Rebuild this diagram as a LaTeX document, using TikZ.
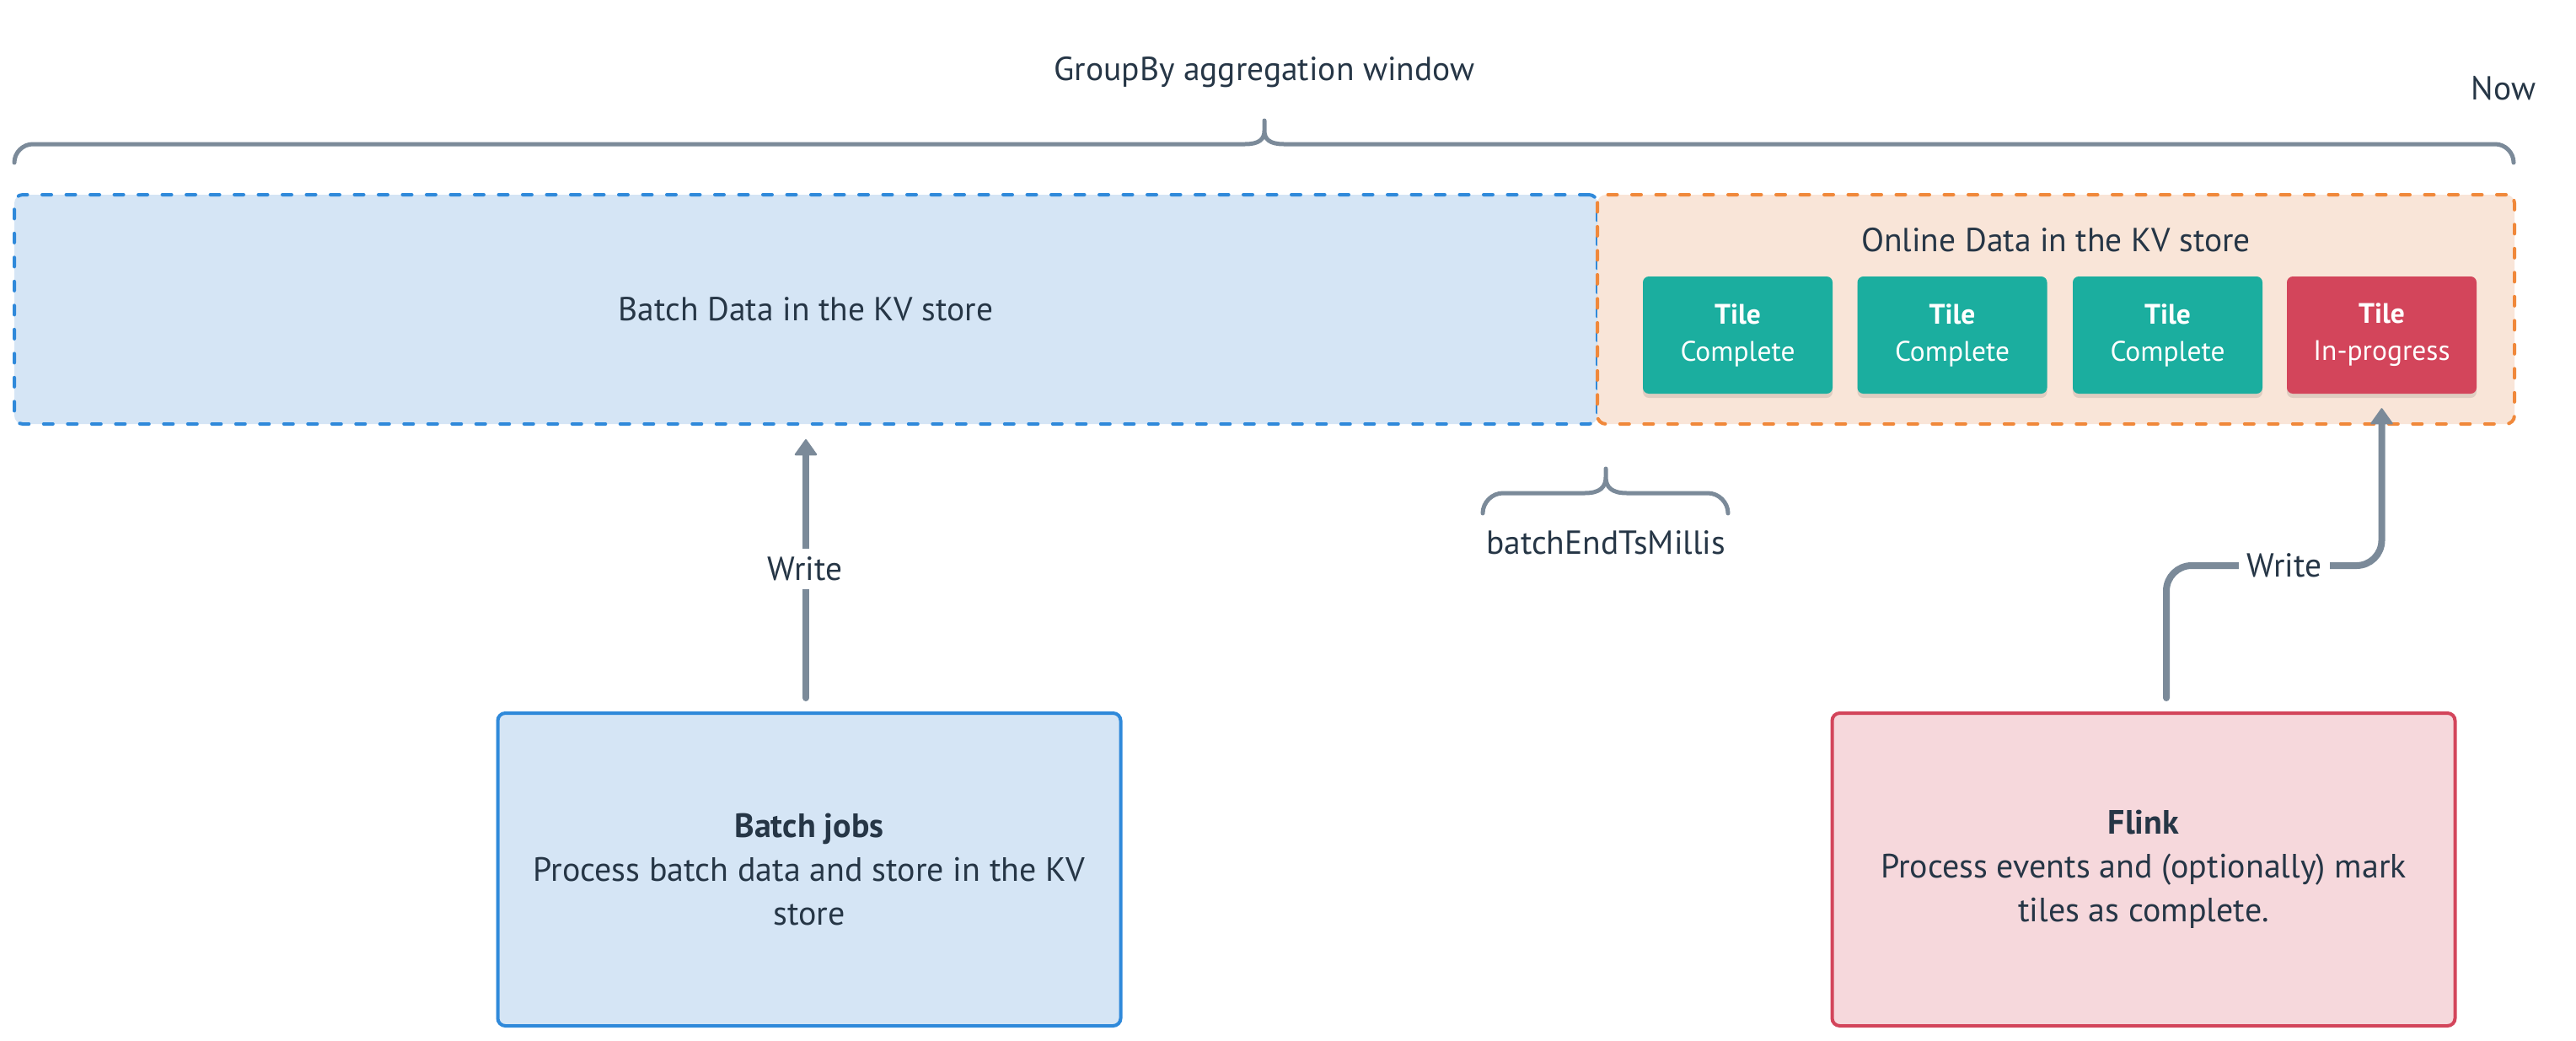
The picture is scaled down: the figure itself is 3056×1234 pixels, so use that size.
\documentclass[tikz,border=0pt]{standalone}
\usepackage{fontspec}
\setmainfont{PT Sans}
\usetikzlibrary{arrows.meta,shadows,calc}
\definecolor{txt}{HTML}{263646}
\definecolor{conn}{HTML}{7B8A99}
\definecolor{bluebd}{HTML}{2F89DA}
\definecolor{bluefill}{HTML}{D5E5F5}
\definecolor{orbd}{HTML}{F0883A}
\definecolor{orfill}{HTML}{F9E5D8}
\definecolor{tealt}{HTML}{1BAE9F}
\definecolor{redt}{HTML}{D3455B}
\definecolor{pinkfill}{HTML}{F6D8DC}
\begin{document}
\begin{tikzpicture}[x=1pt,y=-1pt,
  lbl/.style={text=txt,font=\fontsize{39.5}{52}\selectfont,align=center,inner sep=0pt},
  region/.style={line width=4pt,rounded corners=10pt,dash pattern=on 11pt off 17.5pt,line cap=round,
     text=txt,font=\fontsize{39.5}{52}\selectfont,inner sep=0pt,minimum height=272pt},
  tilebox/.style={rounded corners=7pt,minimum width=225pt,minimum height=139pt,inner sep=0pt,
     text=white,align=center,font=\fontsize{33.5}{44}\selectfont,
     drop shadow={shadow xshift=0pt,shadow yshift=-5pt,opacity=0.10,fill=black}},
  jobbox/.style={line width=4pt,rounded corners=9pt,minimum width=739pt,minimum height=371pt,
     inner sep=0pt,text=txt,align=center,font=\fontsize{40}{52}\selectfont},
  warrow/.style={draw=conn,line width=8pt,line cap=round,rounded corners=30pt,
     -{Triangle[width=28pt,length=20pt,line width=2pt,round]}},
  brace/.style={draw=conn,line width=5pt,line cap=round,line join=round},
  wlabel/.style={lbl,fill=white,inner sep=10pt}
]
\useasboundingbox (0,0) rectangle (3056,1234);

% regions
\node[region,draw=bluebd,fill=bluefill,minimum width=1878pt] (batchdata) at (956,367) {Batch Data in the KV store};
\node[region,draw=orbd,fill=orfill,minimum width=1088pt] (online) at (2439,367) {};
\node[lbl,anchor=base] (onlinelbl) at (2439,298) {Online Data in the KV store};

% tiles
\node[tilebox,fill=tealt] (tile1) at (2061.5,397.5) {\textbf{Tile}\\Complete};
\node[tilebox,fill=tealt] (tile2) at (2316,397.5) {\textbf{Tile}\\Complete};
\node[tilebox,fill=tealt] (tile3) at (2571.5,397.5) {\textbf{Tile}\\Complete};
\node[tilebox,fill=redt] (tile4) at (2825.5,397.5) {\textbf{Tile}\\In-progress};

% top brace
\coordinate (bl) at (17,193);
\coordinate (bt) at (1500,143);
\coordinate (br) at (2982,193);
\draw[brace] (bl) .. controls (17,181) and (27,171) .. (39,171) -- (1477,171)
   .. controls (1494,171) and (1500,165) .. (1500,155) -- (bt) -- (1500,155)
   .. controls (1500,165) and (1506,171) .. (1523,171) -- (2960,171)
   .. controls (2972,171) and (2982,181) .. (br);
\node[lbl,anchor=base] (gb) at (1500,95) {GroupBy aggregation window};
\node[lbl,anchor=base] (now) at (2970,118) {Now};

% small brace
\coordinate (sl) at (1759,609);
\coordinate (st) at (1905,556);
\coordinate (sr) at (2050,609);
\draw[brace] (sl) .. controls (1759,596) and (1770,585) .. (1783,585) -- (1880,585)
   .. controls (1898,585) and (1905,578) .. (1905,566) -- (st) -- (1905,566)
   .. controls (1905,578) and (1912,585) .. (1930,585) -- (2026,585)
   .. controls (2039,585) and (2050,596) .. (sr);
\node[lbl,anchor=base] (betm) at (1905,657) {batchEndTsMillis};

% job boxes
\node[jobbox,draw=bluebd,fill=bluefill] (batchjobs) at (960,1031.5)
  {\textbf{Batch jobs}\\Process batch data and store in the KV\\store};
\node[jobbox,draw=redt,fill=pinkfill] (flink) at (2543,1031.5)
  {\textbf{Flink}\\Process events and (optionally) mark\\tiles as complete.};

% connectors
\draw[warrow,shorten <=16pt,shorten >=16pt] (batchjobs.north -| batchdata.south) -- (batchdata.south);
\node[wlabel] (w1) at (955,675) {Write};

\coordinate (fstart) at ($(flink.north)+(27,0)$);
\coordinate (wbend) at (2825.5,671);
\draw[warrow,shorten <=16pt,shorten >=17pt] (fstart) |- (wbend) -- (tile4.south);
\node[wlabel] (w2) at (2710,671) {Write};
\end{tikzpicture}
\end{document}
